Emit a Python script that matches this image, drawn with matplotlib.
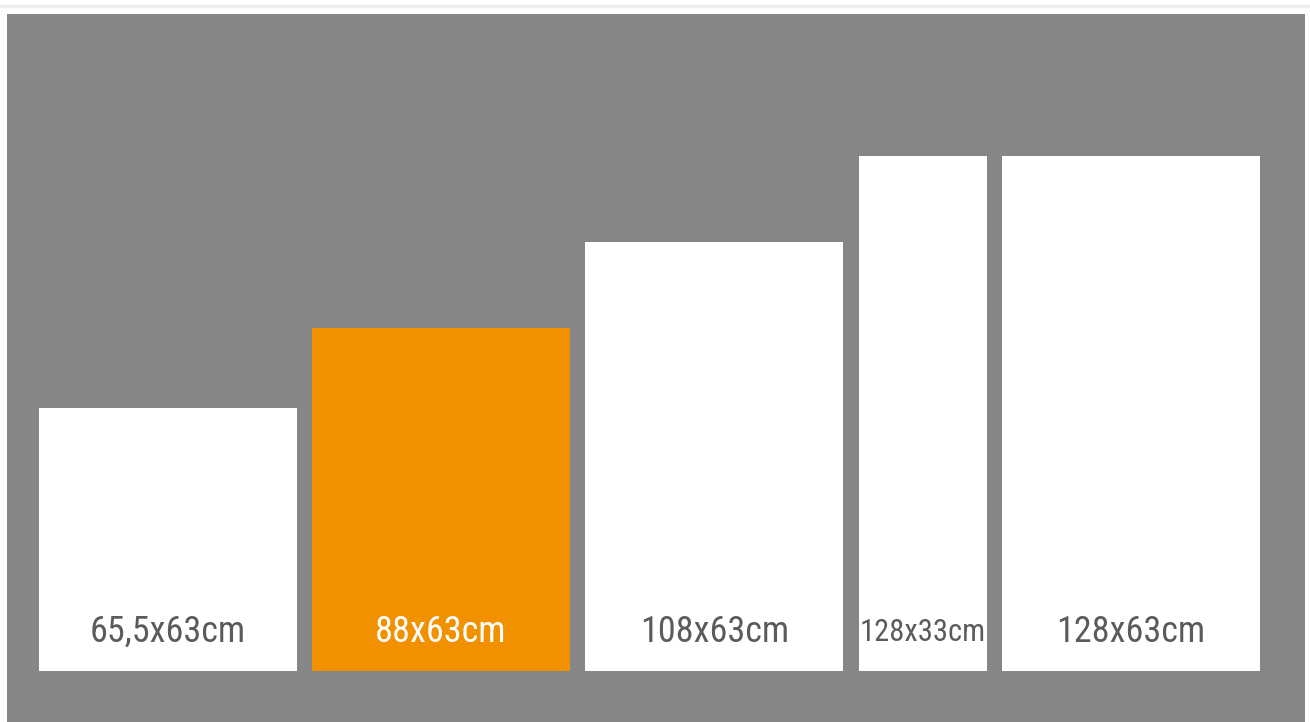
import matplotlib
matplotlib.use("Agg")
import matplotlib.pyplot as plt
from matplotlib import font_manager
from matplotlib.patches import Rectangle

# DATA: labels of the sheet sizes, drawn heights / widths (cm)
labels = ["65,5x63cm", "88x63cm", "108x63cm", "128x33cm", "128x63cm"]
heights = [65.5, 85.3, 106.7, 128, 128]
widths = [63, 63, 63, 31.3, 63]
highlight = 1

GRAY = "#868686"
ORANGE = "#f29100"
TEXT = "#5b5b5b"

FIG_W, FIG_H, DPI = 1310, 722, 100
AX_LEFT, AX_RIGHT, AX_TOP, AX_BOTTOM = 7, 1305, 14, 722
X_SCALE = 4.09   # px per cm
Y_SCALE = 4.02
GAP = 3.8        # cm between sheets


def pick_font():
    # narrow font if there is one, else Roboto
    for name, big, small in [("Liberation Sans Narrow", 26, 22),
                             ("Roboto Condensed", 26, 22),
                             ("Roboto", 23, 18.5)]:
        try:
            font_manager.findfont(name, fallback_to_default=False)
            return name, big, small
        except Exception:
            pass
    return "DejaVu Sans", 21, 16.5


FONT, SIZE_BIG, SIZE_SMALL = pick_font()

fig = plt.figure(figsize=(FIG_W / DPI, FIG_H / DPI), dpi=DPI)
fig.patch.set_facecolor("white")

# thin grey rule at the very top
fig.patches.append(Rectangle((0, 1 - 7 / FIG_H), 1, 2 / FIG_H,
                             transform=fig.transFigure, color="#efefef", zorder=0))

ax = fig.add_axes([AX_LEFT / FIG_W, 1 - AX_BOTTOM / FIG_H,
                   (AX_RIGHT - AX_LEFT) / FIG_W, (AX_BOTTOM - AX_TOP) / FIG_H])
ax.set_facecolor(GRAY)
ax_w_px = AX_RIGHT - AX_LEFT
ax_h_px = AX_BOTTOM - AX_TOP
x0 = 32 / X_SCALE
ax.set_xlim(0, ax_w_px / X_SCALE)
ax.set_ylim(-51 / Y_SCALE, (ax_h_px - 51) / Y_SCALE)

lefts = []
pos = x0
for w in widths:
    lefts.append(pos)
    pos += w + GAP

colors = [ORANGE if i == highlight else "white" for i in range(len(heights))]
ax.bar(lefts, heights, width=widths, align="edge", color=colors, linewidth=0)

for i, (lab, l, w) in enumerate(zip(labels, lefts, widths)):
    size = SIZE_SMALL if w < 40 else SIZE_BIG
    ax.text(l + w / 2, 9.7, lab, ha="center", va="center",
            fontsize=size, family=[FONT, "DejaVu Sans"],
            color="white" if i == highlight else TEXT)

ax.set_xticks([])
ax.set_yticks([])
for s in ax.spines.values():
    s.set_visible(False)

fig.savefig("out.png", dpi=DPI, facecolor=fig.get_facecolor())
